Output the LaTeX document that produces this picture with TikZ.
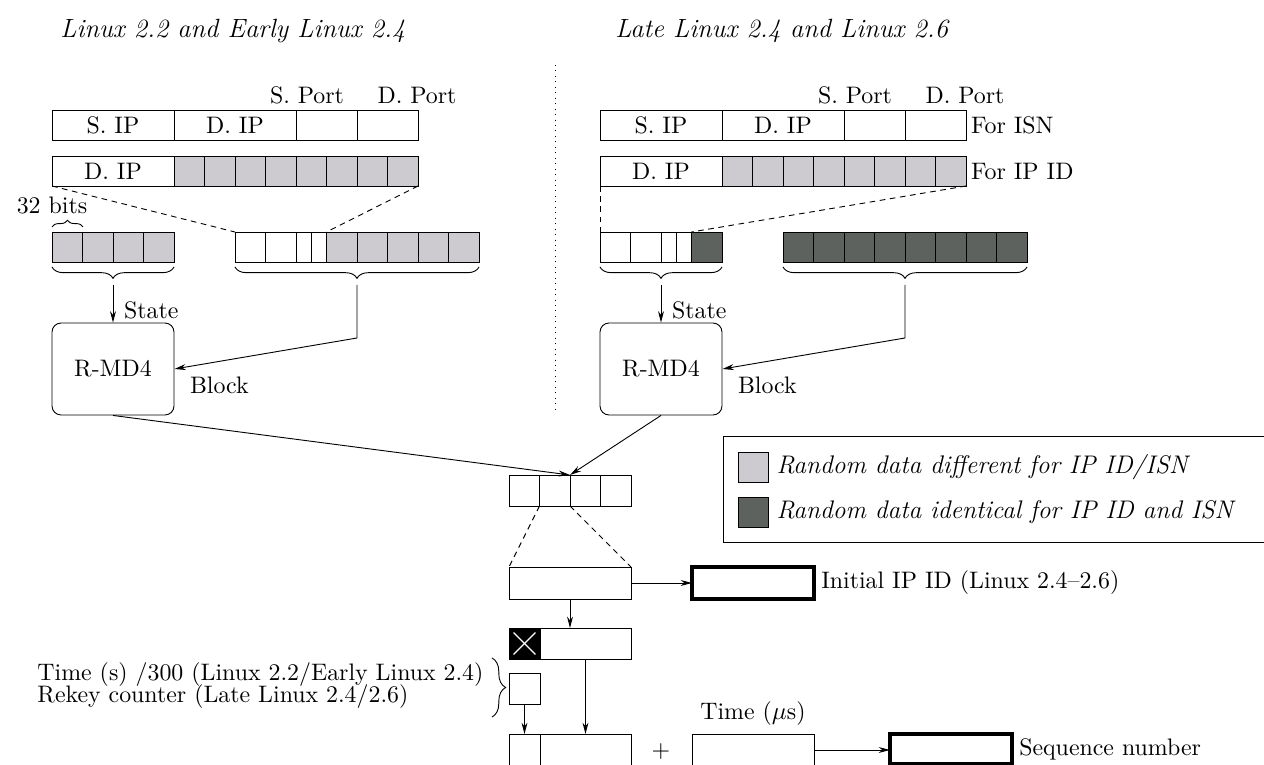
\documentclass[tikz,border=0pt]{standalone}
\usepackage{fontspec}
\usepackage{tikz}
\usetikzlibrary{arrows.meta, decorations.pathreplacing}
\definecolor{randdiff}{HTML}{CDCBD0}
\definecolor{randsame}{HTML}{5E625E}
\newcommand{\unitpx}{0.44pt}
\tikzset{
  cell/.style={draw, inner sep=0pt, outer sep=0pt, anchor=north west, minimum height=30*\unitpx},
  cellw/.style={minimum width=#1*\unitpx},
  diffcell/.style={cell, cellw=30.5, fill=randdiff},
  samecell/.style={cell, cellw=30.5, fill=randsame},
  hashbox/.style={draw, rounded corners=4pt, minimum width=122*\unitpx, minimum height=92*\unitpx},
  flow/.style={-{Stealth[length=5pt, width=2.6pt]}},
  zoomed/.style={dash pattern=on 2.5pt off 2pt},
  outbox/.style={cell, cellw=122, minimum height=32*\unitpx, line width=1.4pt},
  underbrace/.style={decorate, decoration={brace, amplitude=5pt}},
  heading/.style={anchor=west, inner sep=0pt, font=\fontsize{11.6}{14}\selectfont\itshape},
  keytext/.style={anchor=west, font=\fontsize{11.2}{13}\selectfont\itshape},
}

\begin{document}
\begin{tikzpicture}[x=\unitpx, y=-\unitpx, font=\fontsize{10.5}{12.6}\selectfont]
\useasboundingbox (0,0) rectangle (1264,765);

% titles and divider
\node[heading] (titleL) at (60,31) {Linux 2.2 and Early Linux 2.4};
\node[heading] (titleR) at (615,31) {Late Linux 2.4 and Linux 2.6};
\draw[dotted] (555,65) -- (555,412);

% left: tuples
\node[cell, cellw=122] (lsip) at (52,110) {S. IP};
\node[cell, cellw=122] (ldip) at (174,110) {D. IP};
\node[cell, cellw=61] (lsport) at (296,110) {};
\node[cell, cellw=61] (ldport) at (357,110) {};
\node (lsportlab) at (307,95) {S. Port};
\node (ldportlab) at (417,95) {D. Port};
\node[cell, cellw=122] (lkey) at (52,156) {D. IP};
\foreach \i in {0,...,7}
  \node[diffcell] (lrand\i) at ({174+30.5*\i},156) {};

% left: state and block
\foreach \i in {0,...,3}
  \node[diffcell] (lstate\i) at ({52+30.5*\i},232) {};
\foreach \i/\xx/\ww in {0/235/30.5, 1/265.5/30.5, 2/296/15.25, 3/311.25/15.25}
  \node[cell, cellw=\ww] (lblk\i) at (\xx,232) {};
\foreach \i in {4,...,8}
  \node[diffcell] (lblk\i) at ({326.5+30.5*(\i-4)},232) {};
\draw[zoomed] (lkey.south west) -- (lblk0.north west);
\draw[zoomed] (lrand7.south east) -- (lblk4.north west);
\draw[decorate, decoration={brace, amplitude=3pt}] (52,227) -- (83,227);
\node (lbits) at (52,205) {32 bits};
\draw[underbrace] (174,267) -- (52,267);
\draw[underbrace] (479,267) -- (235,267);
\coordinate (lstatetip) at (113,285);
\coordinate (lblocktip) at (357,285);
\coordinate (lbend) at (357,338);

\node[hashbox] (lhash) at (113,369) {R-MD4};
\draw[flow] (lstatetip) -- (lhash.north);
\node[anchor=west] (lstatelab) at (116,310) {State};
\draw[flow] (lblocktip) -- (lbend) -- (lhash.east);
\node[anchor=west] (lblocklab) at (182,385) {Block};

% right: tuples
\node[cell, cellw=122] (rsip) at (600,110) {S. IP};
\node[cell, cellw=122] (rdip) at (722,110) {D. IP};
\node[cell, cellw=61] (rsport) at (844,110) {};
\node[cell, cellw=61] (rdport) at (905,110) {};
\node (rsportlab) at (855,95) {S. Port};
\node (rdportlab) at (965,95) {D. Port};
\node[anchor=west, inner sep=2pt] (forisn) at (rdport.east) {For ISN};
\node[cell, cellw=122] (rkey) at (600,156) {D. IP};
\foreach \i in {0,...,7}
  \node[diffcell] (rrand\i) at ({722+30.5*\i},156) {};
\node[anchor=west, inner sep=2pt] (foripid) at (rrand7.east) {For IP ID};

% right: state and block
\foreach \i/\xx/\ww in {0/600/30.5, 1/630.5/30.5, 2/661/15.25, 3/676.25/15.25}
  \node[cell, cellw=\ww] (rstate\i) at (\xx,232) {};
\node[samecell] (rstate4) at (691.5,232) {};
\foreach \i in {0,...,7}
  \node[samecell] (rblk\i) at ({783+30.5*\i},232) {};
\draw[zoomed] (rkey.south west) -- (rstate0.north west);
\draw[zoomed] (rrand7.south east) -- (rstate4.north west);
\draw[underbrace] (722,267) -- (600,267);
\draw[underbrace] (1027,267) -- (783,267);
\coordinate (rstatetip) at (661,285);
\coordinate (rblocktip) at (905,285);
\coordinate (rbend) at (905,338);

\node[hashbox] (rhash) at (661,369) {R-MD4};
\draw[flow] (rstatetip) -- (rhash.north);
\node[anchor=west] (rstatelab) at (664,310) {State};
\draw[flow] (rblocktip) -- (rbend) -- (rhash.east);
\node[anchor=west] (rblocklab) at (730,385) {Block};

% hash output
\foreach \i in {0,...,3}
  \node[cell, cellw=30.5, minimum height=31*\unitpx] (mix\i) at ({509+30.5*\i},475) {};
\draw[flow] (lhash.south) -- (mix1.north east);
\draw[flow] (rhash.south) -- (mix1.north east);

\node[cell, cellw=122, minimum height=32*\unitpx] (low) at (509,567) {};
\draw[zoomed] (mix1.south west) -- (low.north west);
\draw[zoomed] (mix2.south west) -- (low.north east);
\node[outbox] (ipid) at (692,567) {};
\node[anchor=west, inner sep=3pt] (ipidlab) at (ipid.east) {Initial IP ID (Linux 2.4--2.6)};
\draw[flow] (low.east) -- (ipid.west);

% sequence number
\node[cell, cellw=31, minimum height=31*\unitpx, fill=black] (mask) at (509,628) {};
\draw[white, semithick] ([shift={(2pt,-2pt)}]mask.north west) -- ([shift={(-2pt,2pt)}]mask.south east);
\draw[white, semithick] ([shift={(2pt,2pt)}]mask.south west) -- ([shift={(-2pt,-2pt)}]mask.north east);
\node[cell, cellw=91, minimum height=31*\unitpx] (masked) at (540,628) {};
\draw[flow] (low.south) -- (low.south |- masked.north);

\node[cell, cellw=31, minimum height=31*\unitpx] (counter) at (509,673) {};
\draw[decorate, decoration={brace, amplitude=6pt}] (492,658) -- (492,717);
\node[anchor=west, align=left, inner sep=0pt] (counterlab) at (37,686)
  {Time (s) /300 (Linux 2.2/Early Linux 2.4)\\[-2.9pt]Rekey counter (Late Linux 2.4/2.6)};

\node[cell, cellw=31, minimum height=32*\unitpx] (sumlo) at (509,734) {};
\node[cell, cellw=91, minimum height=32*\unitpx] (sumhi) at (540,734) {};
\draw[flow] (counter.south) -- (sumlo.north);
\draw[flow] (masked.south) -- (sumhi.north);
\node (plus) at (661,752) {+};
\node[cell, cellw=122, minimum height=32*\unitpx] (usec) at (692,734) {};
\node[anchor=south] (useclab) at (usec.north) {Time ($\mu$s)};
\node[outbox, minimum height=30*\unitpx] (isn) at (890,734) {};
\node[anchor=west, inner sep=3pt] (isnlab) at (isn.east) {Sequence number};
\draw[flow] (usec.east) -- (usec.east -| isn.west);

% legend
\node[draw, anchor=north west, minimum width=560*\unitpx, minimum height=106*\unitpx] (legend) at (723,436) {};
\node[diffcell] (keydiff) at (738,452) {};
\node[keytext] (keydifflab) at (keydiff.east) {Random data different for IP ID/ISN};
\node[samecell] (keysame) at (738,497) {};
\node[keytext] (keysamelab) at (keysame.east) {Random data identical for IP ID and ISN};
\end{tikzpicture}
\end{document}
